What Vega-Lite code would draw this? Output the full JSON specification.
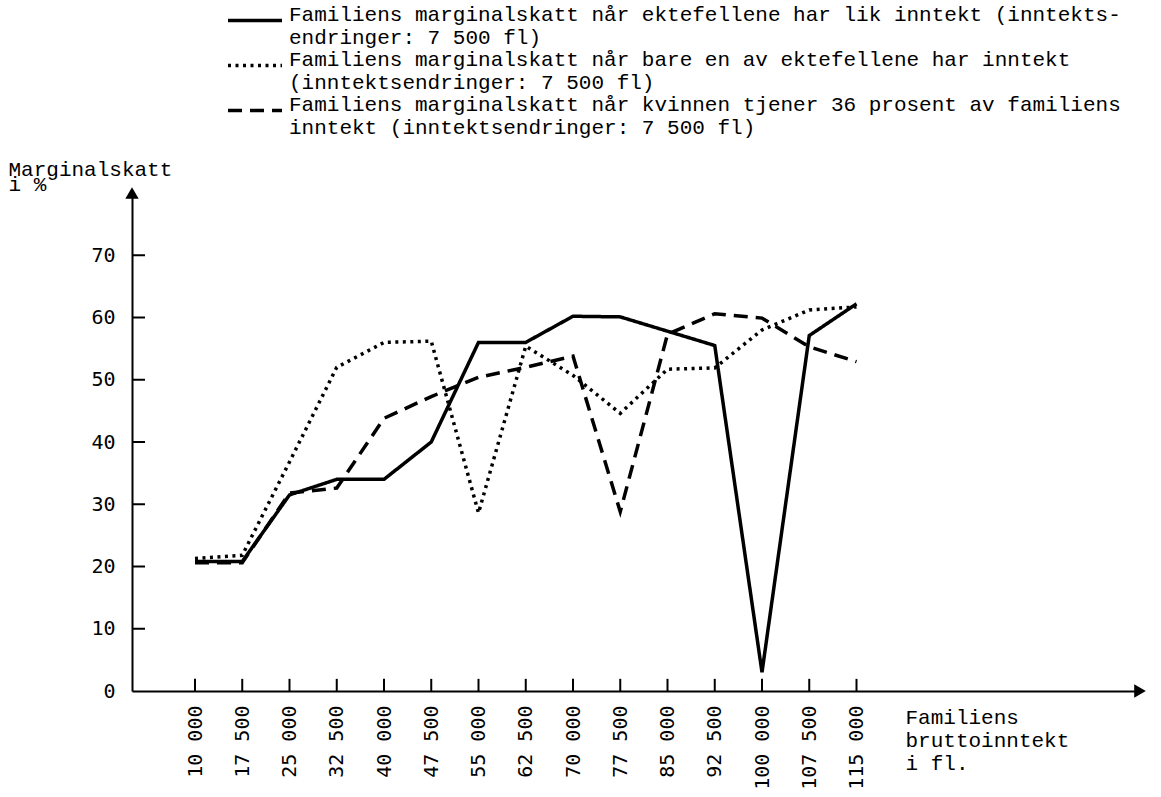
{
  "$schema": "https://vega.github.io/schema/vega-lite/v6.json",
  "width": 1008,
  "height": 498,
  "autosize": {"type": "none"},
  "padding": {"left": 132, "top": 193, "right": 21, "bottom": 106},
  "background": "white",
  "config": {"view": {"stroke": null}, "font": "Liberation Mono"},
  "title": {"text": "Figur 1.9", "anchor": "start", "frame": "group", "dx": -127, "offset": 188, "baseline": "alphabetic", "font": "Liberation Mono", "fontSize": 21, "fontWeight": "normal", "color": "black"},
  "datasets": {
    "skatt": [
      {"inntekt": 10000, "skatt": 20.8, "serie": "A"},
      {"inntekt": 17500, "skatt": 20.8, "serie": "A"},
      {"inntekt": 25000, "skatt": 31.5, "serie": "A"},
      {"inntekt": 32500, "skatt": 34.0, "serie": "A"},
      {"inntekt": 40000, "skatt": 34.0, "serie": "A"},
      {"inntekt": 47500, "skatt": 40.0, "serie": "A"},
      {"inntekt": 55000, "skatt": 56.0, "serie": "A"},
      {"inntekt": 62500, "skatt": 56.0, "serie": "A"},
      {"inntekt": 70000, "skatt": 60.2, "serie": "A"},
      {"inntekt": 77500, "skatt": 60.1, "serie": "A"},
      {"inntekt": 85000, "skatt": 57.8, "serie": "A"},
      {"inntekt": 92500, "skatt": 55.5, "serie": "A"},
      {"inntekt": 100000, "skatt": 3.0, "serie": "A"},
      {"inntekt": 107500, "skatt": 57.1, "serie": "A"},
      {"inntekt": 115000, "skatt": 62.2, "serie": "A"},
      {"inntekt": 10000, "skatt": 21.3, "serie": "B"},
      {"inntekt": 17500, "skatt": 21.8, "serie": "B"},
      {"inntekt": 25000, "skatt": 36.8, "serie": "B"},
      {"inntekt": 32500, "skatt": 52.0, "serie": "B"},
      {"inntekt": 40000, "skatt": 56.0, "serie": "B"},
      {"inntekt": 47500, "skatt": 56.2, "serie": "B"},
      {"inntekt": 55000, "skatt": 28.6, "serie": "B"},
      {"inntekt": 62500, "skatt": 55.4, "serie": "B"},
      {"inntekt": 70000, "skatt": 50.7, "serie": "B"},
      {"inntekt": 77500, "skatt": 44.6, "serie": "B"},
      {"inntekt": 85000, "skatt": 51.7, "serie": "B"},
      {"inntekt": 92500, "skatt": 51.9, "serie": "B"},
      {"inntekt": 100000, "skatt": 58.0, "serie": "B"},
      {"inntekt": 107500, "skatt": 61.2, "serie": "B"},
      {"inntekt": 115000, "skatt": 61.7, "serie": "B"},
      {"inntekt": 10000, "skatt": 20.6, "serie": "C"},
      {"inntekt": 17500, "skatt": 20.6, "serie": "C"},
      {"inntekt": 25000, "skatt": 31.8, "serie": "C"},
      {"inntekt": 32500, "skatt": 32.6, "serie": "C"},
      {"inntekt": 40000, "skatt": 43.8, "serie": "C"},
      {"inntekt": 47500, "skatt": 47.3, "serie": "C"},
      {"inntekt": 55000, "skatt": 50.4, "serie": "C"},
      {"inntekt": 62500, "skatt": 52.0, "serie": "C"},
      {"inntekt": 70000, "skatt": 53.8, "serie": "C"},
      {"inntekt": 77500, "skatt": 28.8, "serie": "C"},
      {"inntekt": 85000, "skatt": 57.3, "serie": "C"},
      {"inntekt": 92500, "skatt": 60.6, "serie": "C"},
      {"inntekt": 100000, "skatt": 59.9, "serie": "C"},
      {"inntekt": 107500, "skatt": 55.3, "serie": "C"},
      {"inntekt": 115000, "skatt": 52.9, "serie": "C"}
    ],
    "xticks": [
      {"v": 10000}, {"v": 17500}, {"v": 25000}, {"v": 32500}, {"v": 40000},
      {"v": 47500}, {"v": 55000}, {"v": 62500}, {"v": 70000}, {"v": 77500},
      {"v": 85000}, {"v": 92500}, {"v": 100000}, {"v": 107500}, {"v": 115000}
    ],
    "yticks": [
      {"v": 10}, {"v": 20}, {"v": 30}, {"v": 40}, {"v": 50}, {"v": 60}, {"v": 70}
    ]
  },
  "layer": [
    {
      "data": {"name": "skatt"},
      "mark": {"type": "line", "color": "black", "strokeWidth": 3.5, "strokeCap": "butt"},
      "encoding": {
        "x": {
          "field": "inntekt", "type": "quantitative",
          "scale": {"domain": [0, 160000], "nice": false, "zero": false},
          "axis": {
            "values": [10000, 17500, 25000, 32500, 40000, 47500, 55000, 62500, 70000, 77500, 85000, 92500, 100000, 107500, 115000],
            "grid": false,
            "domainColor": "black", "domainWidth": 2,
            "ticks": false,
            "labelPadding": 14, "labelAngle": 270, "labelAlign": "right", "labelBaseline": "middle",
            "labelExpr": "replace(format(datum.value, ','), ',', ' ')",
            "labelFont": "DejaVu Sans Mono", "labelFontSize": 20, "labelColor": "black",
            "labelOverlap": false, "labelFlush": false,
            "title": ["Familiens", "bruttoinntekt", "i fl."],
            "titleX": 773, "titleY": 32, "titleAlign": "left", "titleAnchor": "start", "titleBaseline": "alphabetic", "titleAngle": 0,
            "titleLineHeight": 23, "titleFont": "Liberation Mono", "titleFontSize": 21, "titleFontWeight": "normal", "titleColor": "black"
          }
        },
        "y": {
          "field": "skatt", "type": "quantitative",
          "scale": {"domain": [0, 80], "nice": false},
          "axis": {
            "values": [0, 10, 20, 30, 40, 50, 60, 70],
            "grid": false,
            "domainColor": "black", "domainWidth": 2,
            "ticks": false,
            "labelPadding": 17,
            "labelFont": "DejaVu Sans Mono", "labelFontSize": 20, "labelColor": "black",
            "labelOverlap": false, "labelFlush": false,
            "title": ["Marginalskatt", "i %"],
            "titleX": -124, "titleY": -18, "titleAlign": "left", "titleAnchor": "start", "titleBaseline": "alphabetic", "titleAngle": 0,
            "titleLineHeight": 15, "titleFont": "Liberation Mono", "titleFontSize": 21, "titleFontWeight": "normal", "titleColor": "black"
          }
        },
        "strokeDash": {
          "field": "serie", "type": "nominal",
          "scale": {"domain": ["A", "B", "C"], "range": [[1, 0], [3, 4.5], [14, 8]]},
          "legend": {
            "orient": "none", "legendX": 94, "legendY": -189, "direction": "vertical",
            "title": null, "padding": 0, "rowPadding": 0, "clipHeight": 33,
            "symbolType": "stroke", "symbolSize": 2916, "symbolStrokeWidth": 3.5, "symbolStrokeColor": "black",
            "labelOffset": 5, "labelLimit": 1500,
            "labelFont": "Liberation Mono", "labelFontSize": 21, "labelColor": "black", "labelBaseline": "alphabetic",
            "labelExpr": "datum.label == 'A' ? ['Familiens marginalskatt når ektefellene har lik inntekt (inntekts-', 'endringer: 7 500 fl)'] : datum.label == 'B' ? ['Familiens marginalskatt når bare en av ektefellene har inntekt', '(inntektsendringer:  7 500 fl)'] : ['Familiens marginalskatt når kvinnen tjener 36 prosent av familiens', 'inntekt (inntektsendringer:  7 500 fl)']"
          }
        }
      }
    },
    {
      "data": {"name": "yticks"},
      "mark": {"type": "rule", "color": "black", "strokeWidth": 2},
      "encoding": {"y": {"field": "v", "type": "quantitative"}, "x": {"datum": 0}, "x2": {"datum": 2060}}
    },
    {
      "data": {"name": "xticks"},
      "mark": {"type": "rule", "color": "black", "strokeWidth": 2},
      "encoding": {"x": {"field": "v", "type": "quantitative"}, "y": {"datum": 0}, "y2": {"datum": 1.95}}
    },
    {
      "data": {"values": [{}]},
      "mark": {"type": "point", "shape": "triangle-up", "filled": true, "color": "black", "size": 180, "opacity": 1},
      "encoding": {"x": {"datum": 0}, "y": {"datum": 80}}
    },
    {
      "data": {"values": [{}]},
      "mark": {"type": "point", "shape": "triangle-right", "filled": true, "color": "black", "size": 180, "opacity": 1},
      "encoding": {"x": {"datum": 160000}, "y": {"datum": 0}}
    }
  ]
}
